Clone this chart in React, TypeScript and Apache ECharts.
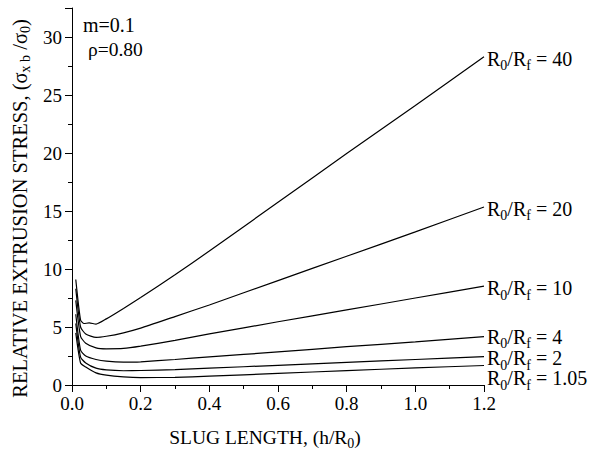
import React, { useEffect, useRef } from "react";
import * as echarts from "echarts";

const FONT = "'Liberation Serif', 'Times New Roman', Times, serif";

const seriesNames = ["40", "20", "10", "4", "2", "1.05"];

const r40: number[][] = [
  [0.011, 9.1], [0.025, 5.6], [0.035, 5.3], [0.05, 5.35], [0.07, 5.25], [0.1, 5.7],
  [0.15, 6.6], [0.2, 7.55], [0.3, 9.5], [0.4, 11.55], [0.6, 15.75], [0.8, 19.95],
  [1.0, 24.1], [1.2, 28.3],
];
const r20: number[][] = [
  [0.011, 8.3], [0.025, 5.0], [0.04, 4.4], [0.07, 4.1], [0.1, 4.2], [0.15, 4.5],
  [0.2, 4.9], [0.3, 5.9], [0.4, 6.9], [0.6, 9.0], [0.8, 11.1], [1.0, 13.2], [1.2, 15.35],
];
const r10: number[][] = [
  [0.011, 7.3], [0.025, 4.2], [0.04, 3.6], [0.07, 3.2], [0.1, 3.12], [0.15, 3.15],
  [0.2, 3.35], [0.3, 3.85], [0.4, 4.4], [0.6, 5.45], [0.8, 6.47], [1.0, 7.5], [1.2, 8.53],
];
const r4: number[][] = [
  [0.011, 6.1], [0.025, 3.0], [0.04, 2.5], [0.07, 2.2], [0.1, 2.05], [0.15, 1.97],
  [0.2, 2.0], [0.3, 2.2], [0.4, 2.42], [0.6, 2.85], [0.8, 3.3], [1.0, 3.72], [1.2, 4.17],
];
const r2: number[][] = [
  [0.011, 5.3], [0.025, 2.4], [0.04, 1.9], [0.07, 1.45], [0.1, 1.3], [0.15, 1.23],
  [0.2, 1.25], [0.3, 1.33], [0.4, 1.45], [0.6, 1.7], [0.8, 1.95], [1.0, 2.2], [1.2, 2.44],
];
const r105: number[][] = [
  [0.011, 4.5], [0.025, 1.9], [0.04, 1.55], [0.07, 1.05], [0.1, 0.85], [0.15, 0.7],
  [0.2, 0.64], [0.3, 0.66], [0.4, 0.76], [0.6, 1.0], [0.8, 1.24], [1.0, 1.47], [1.2, 1.68],
];

const allData = [r40, r20, r10, r4, r2, r105];
const labelOffsets = [[0, 2], [0, 2], [0, 2], [0, 0], [0, 1.5], [0, 12.5]];

const labelRich = {
  n: { fontFamily: FONT, fontSize: 20, color: "#000", lineHeight: 20, verticalAlign: "top" as const },
  s: { fontFamily: FONT, fontSize: 14, color: "#000", lineHeight: 14, verticalAlign: "top" as const, padding: [10, 0, 0, 0] },
};
const xNameRich = {
  n: { fontFamily: FONT, fontSize: 19.5, color: "#000", lineHeight: 20, verticalAlign: "top" as const },
  s: { fontFamily: FONT, fontSize: 14, color: "#000", lineHeight: 14, verticalAlign: "top" as const, padding: [9, 0, 0, 0] },
};
const yNameRich = {
  n: { fontFamily: FONT, fontSize: 20.5, color: "#000", lineHeight: 21, verticalAlign: "top" as const },
  s: { fontFamily: FONT, fontSize: 14, color: "#000", lineHeight: 14, verticalAlign: "top" as const, padding: [9, 0, 0, 0] },
};

export default function App() {
  const ref = useRef<HTMLDivElement>(null);
  useEffect(() => {
    if (!ref.current) return;
    const chart = echarts.init(ref.current, null, { renderer: "svg" });
    chart.setOption({
      animation: false,
      backgroundColor: "#fff",
      grid: { left: 72, right: 121, top: 8, bottom: 74 },
      xAxis: {
        type: "value",
        min: 0,
        max: 1.2,
        interval: 0.2,
        name: "{n|SLUG LENGTH, (h/R}{s|0}{n|)}",
        nameLocation: "middle",
        nameGap: 42,
        nameTextStyle: { rich: xNameRich, padding: [0, 26, 0, 0] },
        axisLine: { lineStyle: { color: "#000", width: 1 } },
        axisTick: { show: true, inside: false, length: 7, lineStyle: { color: "#000" } },
        minorTick: { show: true, splitNumber: 2, length: 4, lineStyle: { color: "#000" } },
        splitLine: { show: false },
        axisLabel: {
          color: "#000",
          fontFamily: FONT,
          fontSize: 19,
          margin: 9,
          formatter: (v: number) => v.toFixed(1),
        },
      },
      yAxis: {
        type: "value",
        min: 0,
        max: 32.5,
        interval: 5,
        name: "{n|RELATIVE EXTRUSION STRESS, (σ}{s|x b}{n| /σ}{s|0}{n|)}",
        nameLocation: "middle",
        nameGap: 36,
        nameTextStyle: { rich: yNameRich, padding: [0, 24, 0, 0] },
        axisLine: { show: true, lineStyle: { color: "#000", width: 1 } },
        axisTick: { show: true, inside: false, length: 7, lineStyle: { color: "#000" } },
        minorTick: { show: true, splitNumber: 2, length: 4, lineStyle: { color: "#000" } },
        splitLine: { show: false },
        axisLabel: {
          color: "#000",
          fontFamily: FONT,
          fontSize: 19,
          margin: 10,
          showMaxLabel: false,
          formatter: (v: number) => (v % 5 === 0 ? String(v) : ""),
        },
      },
      graphic: [
        {
          type: "text",
          left: 83,
          top: 15,
          style: { text: "m=0.1", font: `20px ${FONT}`, fill: "#000" },
        },
        {
          type: "text",
          left: 88,
          top: 39,
          style: { text: "ρ=0.80", font: `19.5px ${FONT}`, fill: "#000" },
        },
      ],
      series: allData.map((d, i) => ({
        type: "line",
        name: seriesNames[i],
        data: d,
        showSymbol: false,
        symbol: "none",
        smooth: 0.2,
        lineStyle: { color: "#000", width: 1.2 },
        endLabel: {
          show: true,
          distance: 3,
          offset: labelOffsets[i],
          formatter: `{n|R}{s|0}{n|/R}{s|f}{n| = ${seriesNames[i]}}`,
          rich: labelRich,
        },
      })),
    });
    return () => chart.dispose();
  }, []);
  return (
    <div
      ref={ref}
      style={{ position: "absolute", left: 0, top: 0, width: 605, height: 459 }}
    />
  );
}
